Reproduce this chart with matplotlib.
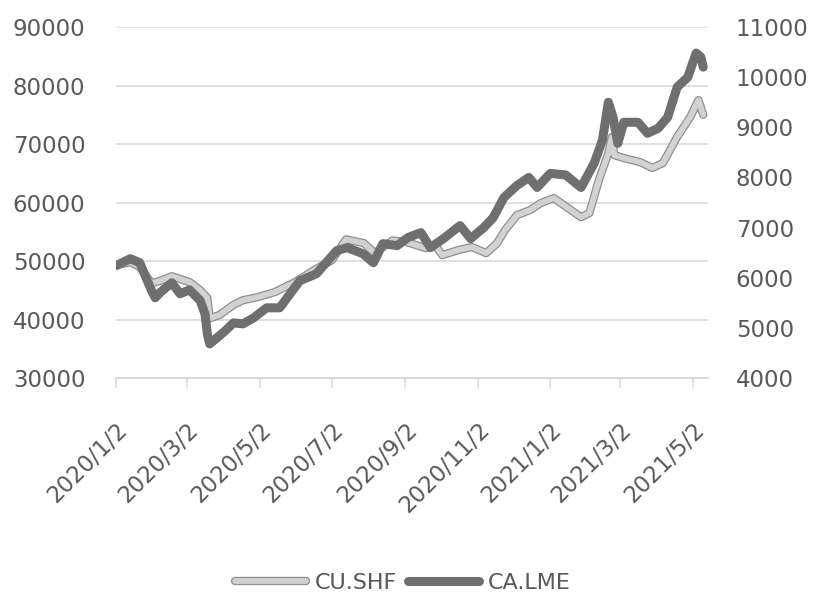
import matplotlib
matplotlib.use("Agg")
import matplotlib.pyplot as plt
import matplotlib.dates as mdates
import matplotlib.patheffects as pe
import pandas as pd

# ---- data ----
lme_dates = ["2020-01-02", "2020-01-14", "2020-01-22", "2020-02-01", "2020-02-04",
             "2020-02-08", "2020-02-18", "2020-02-25", "2020-03-04", "2020-03-13",
             "2020-03-17", "2020-03-19", "2020-03-21", "2020-03-27", "2020-04-03",
             "2020-04-10", "2020-04-18", "2020-04-27", "2020-05-08", "2020-05-19",
             "2020-06-05", "2020-06-19", "2020-07-06", "2020-07-15", "2020-07-28",
             "2020-08-06", "2020-08-14", "2020-08-26", "2020-09-04", "2020-09-15",
             "2020-09-23", "2020-10-04", "2020-10-18", "2020-10-27", "2020-11-07",
             "2020-11-15", "2020-11-24", "2020-12-05", "2020-12-15", "2020-12-22",
             "2021-01-02", "2021-01-15", "2021-01-28", "2021-02-08", "2021-02-15",
             "2021-02-20", "2021-02-24", "2021-02-28", "2021-03-05", "2021-03-17",
             "2021-03-25", "2021-04-03", "2021-04-11", "2021-04-19", "2021-04-28",
             "2021-05-05", "2021-05-09", "2021-05-11"]
lme_values = [6240, 6380, 6300, 5740, 5600,
              5700, 5900, 5680, 5760, 5540,
              5280, 4880, 4680, 4800, 4940,
              5100, 5080, 5200, 5400, 5400,
              5940, 6080, 6540, 6600, 6480,
              6300, 6680, 6640, 6800, 6900,
              6600, 6780, 7040, 6780, 7000,
              7200, 7600, 7840, 8000, 7800,
              8080, 8050, 7800, 8280, 8740,
              9500, 9200, 8680, 9100, 9100,
              8880, 8980, 9200, 9800, 10000,
              10480, 10400, 10200]

shf_dates = ["2020-01-02", "2020-01-14", "2020-01-22", "2020-02-01", "2020-02-08",
             "2020-02-18", "2020-03-04", "2020-03-13", "2020-03-19", "2020-03-21",
             "2020-03-29", "2020-04-10", "2020-04-18", "2020-04-30", "2020-05-15",
             "2020-06-01", "2020-06-17", "2020-07-02", "2020-07-14", "2020-07-29",
             "2020-08-07", "2020-08-22", "2020-09-02", "2020-09-19", "2020-09-27",
             "2020-10-03", "2020-10-17", "2020-10-28", "2020-11-09", "2020-11-18",
             "2020-11-25", "2020-12-05", "2020-12-16", "2020-12-25", "2021-01-05",
             "2021-01-28", "2021-02-04", "2021-02-12", "2021-02-20", "2021-02-23",
             "2021-02-25", "2021-03-05", "2021-03-19", "2021-03-29", "2021-04-07",
             "2021-04-19", "2021-04-30", "2021-05-07", "2021-05-11"]
shf_values = [49300, 49800, 49000, 46200, 46600,
              47400, 46400, 45000, 43700, 40200,
              40750, 42500, 43300, 43800, 44700,
              46400, 48450, 50150, 53700, 53050,
              51350, 53500, 53300, 52200, 52700,
              51000, 51900, 52400, 51350, 53000,
              55300, 57850, 58700, 59900, 60760,
              57500, 58200, 63800, 68450, 71200,
              68100, 67600, 66900, 65900, 66750,
              71200, 74600, 77500, 75000]

tick_dates = ["2020-01-02", "2020-03-02", "2020-05-02", "2020-07-02", "2020-09-02",
              "2020-11-02", "2021-01-02", "2021-03-02", "2021-05-02"]
tick_labels = ["2020/1/2", "2020/3/2", "2020/5/2", "2020/7/2", "2020/9/2",
               "2020/11/2", "2021/1/2", "2021/3/2", "2021/5/2"]
left_ticks = [30000, 40000, 50000, 60000, 70000, 80000, 90000]
right_ticks = [4000, 5000, 6000, 7000, 8000, 9000, 10000, 11000]

series_names = ["CU.SHF", "CA.LME"]

# ---- styling ----
plt.rcParams["font.family"] = ["DejaVu Sans"]
TEXT = "#595959"
GRID = "#d9d9d9"
LIGHT = "#d2d2d2"
LIGHT_EDGE = "#8f8f8f"
DARK = "#6f6f6f"

fig = plt.figure(figsize=(8.22, 6.11), dpi=100)
ax1 = fig.add_axes([0.1411, 0.3813, 0.7202, 0.5745])
ax2 = ax1.twinx()

ld = pd.to_datetime(lme_dates)
sd = pd.to_datetime(shf_dates)

l1, = ax1.plot(sd, shf_values, color=LIGHT, lw=4.2, solid_capstyle="round",
               solid_joinstyle="round",
               path_effects=[pe.Stroke(linewidth=6.0, foreground=LIGHT_EDGE), pe.Normal()])
l2, = ax2.plot(ld, lme_values, color=DARK, lw=6.5, solid_capstyle="round",
               solid_joinstyle="round")

ax1.set_ylim(30000, 90000)
ax2.set_ylim(4000, 11000)
ax1.set_yticks(left_ticks)
ax2.set_yticks(right_ticks)
ax1.set_yticklabels([str(v) for v in left_ticks])
ax2.set_yticklabels([str(v) for v in right_ticks])

ax1.set_xlim(pd.Timestamp("2020-01-02"), pd.Timestamp("2021-05-15"))
ax1.set_xticks(pd.to_datetime(tick_dates))
ax1.set_xticklabels(tick_labels, rotation=45, ha="right", rotation_mode="anchor")

ax1.grid(axis="y", color=GRID, lw=1.2)
ax1.set_axisbelow(True)

for ax in (ax1, ax2):
    for s in ("top", "right", "left"):
        ax.spines[s].set_visible(False)
    ax.spines["bottom"].set_color(GRID)
    ax.spines["bottom"].set_linewidth(1.2)

ax1.tick_params(axis="y", length=0, labelsize=16.5, labelcolor=TEXT, pad=22)
ax2.tick_params(axis="y", length=0, labelsize=16.5, labelcolor=TEXT, pad=20)
ax1.tick_params(axis="x", length=7, width=1.1, color=GRID, labelsize=16.5,
                labelcolor=TEXT, pad=22)
ax2.tick_params(axis="x", length=0)

leg = fig.legend([l1, l2], series_names, loc="center", bbox_to_anchor=(0.49, 0.046),
                 ncol=2, frameon=False, fontsize=16, handlelength=3.2,
                 handletextpad=0.4, columnspacing=0.5, labelcolor=TEXT)

fig.savefig("out.png", dpi=100)
